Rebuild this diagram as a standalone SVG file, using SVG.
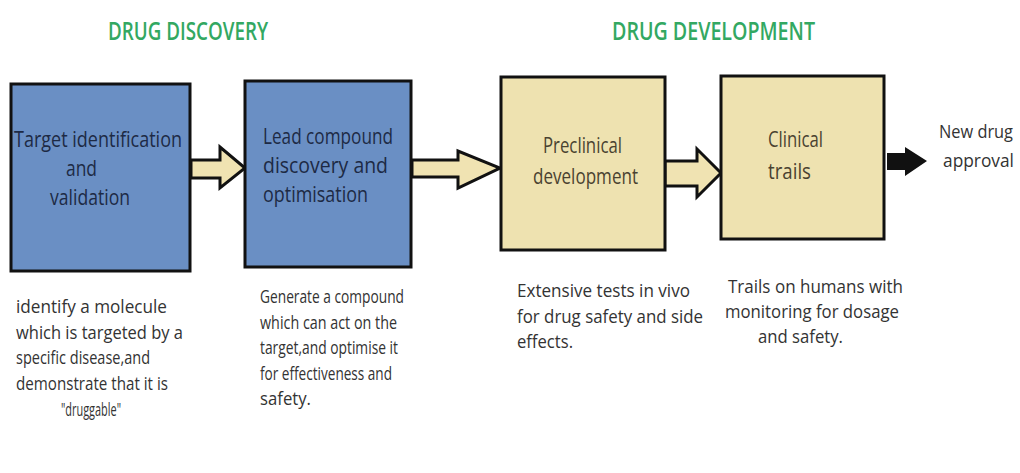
<svg xmlns="http://www.w3.org/2000/svg" width="1020" height="473" viewBox="0 0 1020 473">
<style>
.t{font-family:"Open Sans","Liberation Sans",sans-serif;}
.title{font-size:25px;font-weight:600;fill:#33a862;}
.blue{fill:#6a8fc4;stroke:#111;stroke-width:3;}
.tan{fill:#eee2b0;stroke:#111;stroke-width:3;}
.bt{font-size:21px;fill:#1d2a44;}
.tt{font-size:21px;fill:#4a4230;}
.desc{font-size:18px;fill:#333;}
.arr{fill:#f0e3b2;stroke:#111;stroke-width:3;stroke-linejoin:miter;}
</style>
<rect width="1020" height="473" fill="#fff"/>
<g id="titles" class="t">
<text class="title" x="108" y="40" textLength="160" lengthAdjust="spacingAndGlyphs">DRUG DISCOVERY</text>
<text class="title" x="612" y="40" textLength="203" lengthAdjust="spacingAndGlyphs">DRUG DEVELOPMENT</text>
</g>
<g id="connectors">
<polygon class="arr" points="191,160 220,160 220,147 245,168 220,188 220,178 191,178"/>
<polygon class="arr" points="412,160 458,160 458,151 500,168 458,188 458,177 412,177"/>
<polygon class="arr" points="665,161 697,161 697,149 721,173 697,197 697,186 665,186"/>
<polygon fill="#111" points="887,153 905,153 905,147 927,161 905,176 905,170 887,170"/>
</g>
<g id="node-target" class="t">
<rect class="blue" x="11" y="84" width="179" height="187"/>
<text class="bt" x="14" y="147" textLength="168" lengthAdjust="spacingAndGlyphs">Target identification</text>
<text class="bt" x="66" y="176" textLength="31" lengthAdjust="spacingAndGlyphs">and</text>
<text class="bt" x="50" y="205" textLength="80" lengthAdjust="spacingAndGlyphs">validation</text>
</g>
<g id="node-lead" class="t">
<rect class="blue" x="245" y="81" width="166" height="186"/>
<text class="bt" x="263" y="144" textLength="130" lengthAdjust="spacingAndGlyphs">Lead compound</text>
<text class="bt" x="263" y="173" textLength="125" lengthAdjust="spacingAndGlyphs">discovery and</text>
<text class="bt" x="263" y="202" textLength="105" lengthAdjust="spacingAndGlyphs">optimisation</text>
</g>
<g id="node-preclinical" class="t">
<rect class="tan" x="501" y="77" width="164" height="173"/>
<text class="tt" x="543" y="153" textLength="79" lengthAdjust="spacingAndGlyphs">Preclinical</text>
<text class="tt" x="533" y="184" textLength="105" lengthAdjust="spacingAndGlyphs">development</text>
</g>
<g id="node-clinical" class="t">
<rect class="tan" x="721" y="76" width="163" height="163"/>
<text class="tt" x="768" y="147" textLength="55" lengthAdjust="spacingAndGlyphs">Clinical</text>
<text class="tt" x="768" y="179" textLength="43" lengthAdjust="spacingAndGlyphs">trails</text>
</g>
<g id="node-approval" class="t">
<text class="desc" x="939" y="138" textLength="74" lengthAdjust="spacingAndGlyphs">New drug</text>
<text class="desc" x="943" y="167" textLength="71" lengthAdjust="spacingAndGlyphs">approval</text>
</g>
<g id="desc-target" class="t desc">
<text x="16" y="313" textLength="151" lengthAdjust="spacingAndGlyphs">identify a molecule</text>
<text x="16" y="339" textLength="167" lengthAdjust="spacingAndGlyphs">which is targeted by a</text>
<text x="16" y="364" textLength="134" lengthAdjust="spacingAndGlyphs">specific disease,and</text>
<text x="16" y="390" textLength="152" lengthAdjust="spacingAndGlyphs">demonstrate that it is</text>
<text x="61" y="416" textLength="60" lengthAdjust="spacingAndGlyphs">"druggable"</text>
</g>
<g id="desc-lead" class="t desc">
<text x="260" y="303" textLength="144" lengthAdjust="spacingAndGlyphs">Generate a compound</text>
<text x="260" y="329" textLength="137" lengthAdjust="spacingAndGlyphs">which can act on the</text>
<text x="260" y="354" textLength="138" lengthAdjust="spacingAndGlyphs">target,and optimise it</text>
<text x="260" y="380" textLength="132" lengthAdjust="spacingAndGlyphs">for effectiveness and</text>
<text x="260" y="405" textLength="51" lengthAdjust="spacingAndGlyphs">safety.</text>
</g>
<g id="desc-preclinical" class="t desc">
<text x="517" y="297" textLength="173" lengthAdjust="spacingAndGlyphs">Extensive tests in vivo</text>
<text x="517" y="323" textLength="186" lengthAdjust="spacingAndGlyphs">for drug safety and side</text>
<text x="517" y="348" textLength="56" lengthAdjust="spacingAndGlyphs">effects.</text>
</g>
<g id="desc-clinical" class="t desc">
<text x="728" y="293" textLength="175" lengthAdjust="spacingAndGlyphs">Trails on humans with</text>
<text x="725" y="318" textLength="174" lengthAdjust="spacingAndGlyphs">monitoring for dosage</text>
<text x="758" y="343" textLength="85" lengthAdjust="spacingAndGlyphs">and safety.</text>
</g>
</svg>
